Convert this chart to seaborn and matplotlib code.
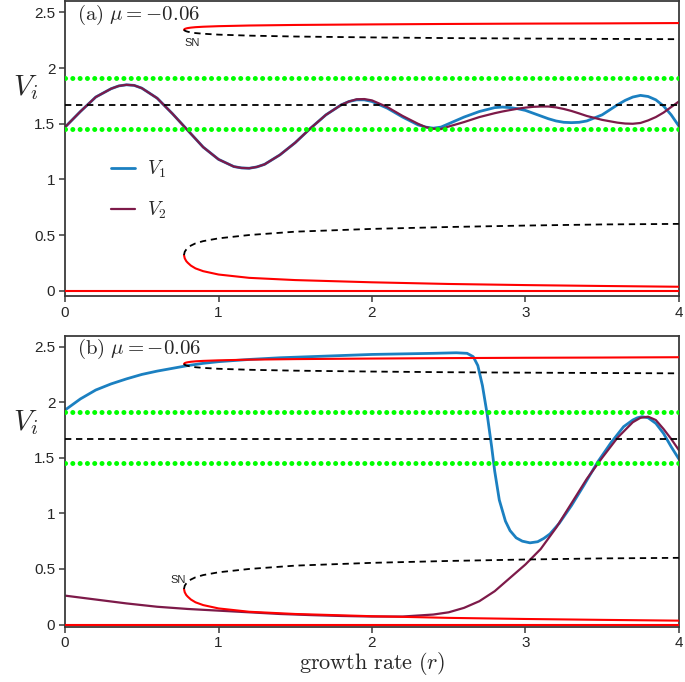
import numpy as np
import matplotlib
matplotlib.use("Agg")
import matplotlib.pyplot as plt
import seaborn as sns
import pandas as pd

sns.set_style("ticks")
plt.rcParams['font.family'] = ['Liberation Sans', 'DejaVu Sans']
plt.rcParams['mathtext.fontset'] = 'cm'

# --- datos ---
# panel (a): trayectorias V1, V2 frente a r
r_a = [0.0, 0.1, 0.2, 0.3, 0.35, 0.4, 0.45, 0.5, 0.6, 0.7,
       0.8, 0.9, 1.0, 1.1, 1.15, 1.2, 1.25, 1.3, 1.4, 1.5,
       1.6, 1.7, 1.8, 1.85, 1.9, 1.95, 2.0, 2.1, 2.2, 2.3,
       2.35, 2.4, 2.45, 2.5, 2.6, 2.7, 2.8, 2.85, 2.9, 2.95,
       3.0, 3.05, 3.1, 3.15, 3.2, 3.25, 3.3, 3.35, 3.4, 3.5,
       3.6, 3.65, 3.7, 3.75, 3.8, 3.85, 3.9, 3.95, 4.0]
v1_a = [1.47, 1.61, 1.74, 1.815, 1.84, 1.85, 1.845, 1.82, 1.73, 1.59,
        1.44, 1.29, 1.18, 1.115, 1.103, 1.10, 1.112, 1.135, 1.22, 1.33,
        1.46, 1.58, 1.67, 1.70, 1.715, 1.715, 1.70, 1.64, 1.56, 1.49,
        1.47, 1.46, 1.47, 1.50, 1.56, 1.61, 1.645, 1.65, 1.645, 1.635,
        1.62, 1.595, 1.57, 1.545, 1.525, 1.513, 1.51, 1.513, 1.525, 1.58,
        1.67, 1.71, 1.74, 1.755, 1.745, 1.715, 1.66, 1.58, 1.48]
v2_a = [1.47, 1.61, 1.74, 1.815, 1.84, 1.85, 1.845, 1.82, 1.73, 1.59,
        1.44, 1.29, 1.18, 1.115, 1.103, 1.10, 1.112, 1.135, 1.22, 1.33,
        1.46, 1.58, 1.67, 1.70, 1.72, 1.722, 1.71, 1.65, 1.57, 1.50,
        1.47, 1.455, 1.452, 1.475, 1.515, 1.56, 1.595, 1.61, 1.623, 1.635,
        1.645, 1.652, 1.655, 1.655, 1.647, 1.633, 1.615, 1.593, 1.57, 1.535,
        1.51, 1.502, 1.50, 1.507, 1.53, 1.56, 1.60, 1.65, 1.70]

# panel (b)
r_b1 = [0.0, 0.1, 0.2, 0.3, 0.4, 0.5, 0.6, 0.7, 0.8, 0.9, 1.0, 1.2, 1.4, 1.6,
        1.8, 2.0, 2.2, 2.4, 2.55, 2.62, 2.66, 2.69, 2.72, 2.75, 2.78, 2.80,
        2.83, 2.87, 2.90, 2.94, 2.98, 3.03, 3.08, 3.12, 3.16, 3.22, 3.30,
        3.38, 3.47, 3.56, 3.64, 3.70, 3.73, 3.76, 3.80, 3.85, 3.90, 3.95, 4.0]
v1_b = [1.93, 2.03, 2.11, 2.165, 2.21, 2.25, 2.28, 2.305, 2.33, 2.35, 2.365,
        2.385, 2.40, 2.41, 2.42, 2.43, 2.435, 2.44, 2.445, 2.44, 2.41, 2.33,
        2.15, 1.90, 1.60, 1.38, 1.12, 0.93, 0.845, 0.78, 0.75, 0.735, 0.745,
        0.775, 0.815, 0.91, 1.07, 1.25, 1.46, 1.64, 1.78, 1.84, 1.86, 1.87,
        1.86, 1.81, 1.72, 1.60, 1.49]
r_b2 = [0.0, 0.2, 0.4, 0.6, 0.8, 1.0, 1.2, 1.4, 1.6, 1.8, 2.0, 2.2, 2.4, 2.5,
        2.6, 2.7, 2.8, 2.9, 3.0, 3.1, 3.2, 3.3, 3.4, 3.5, 3.6, 3.7, 3.75, 3.8,
        3.85, 3.9, 3.95, 4.0]
v2_b = [0.26, 0.225, 0.19, 0.16, 0.14, 0.125, 0.11, 0.095, 0.085, 0.077,
        0.072, 0.072, 0.09, 0.11, 0.15, 0.21, 0.30, 0.42, 0.54, 0.68, 0.87,
        1.09, 1.31, 1.50, 1.68, 1.82, 1.86, 1.87, 1.84, 1.76, 1.67, 1.57]

# diagrama de bifurcación (ramas con silla-nodo)
br_r = [0.775, 0.78, 0.79, 0.8, 0.82, 0.85, 0.9, 1.0, 1.2, 1.5, 2.0, 2.5,
        3.0, 3.5, 4.0]
upper_stable = [2.345, 2.352, 2.357, 2.36, 2.364, 2.368, 2.372, 2.377, 2.383,
                2.388, 2.393, 2.397, 2.40, 2.402, 2.405]
upper_unstable = [2.345, 2.337, 2.331, 2.327, 2.321, 2.315, 2.309, 2.301,
                  2.292, 2.284, 2.276, 2.27, 2.266, 2.263, 2.26]
lower_stable = [0.32, 0.29, 0.265, 0.25, 0.225, 0.2, 0.175, 0.145, 0.115,
                0.095, 0.075, 0.06, 0.05, 0.042, 0.035]
lower_unstable = [0.32, 0.35, 0.37, 0.385, 0.405, 0.425, 0.445, 0.47, 0.5,
                  0.53, 0.555, 0.572, 0.585, 0.595, 0.60]

r_span = [0.0, 4.0]
green_levels = [1.91, 1.45]
mid_unstable = 1.67
zero_level = 0.0

x_ticks = [0, 1, 2, 3, 4]
y_ticks = [0, 0.5, 1, 1.5, 2, 2.5]
y_tick_labels = ['0', '0.5', '1', '1.5', '2', '2.5']

C_BLUE = '#1b80c1'
C_PURPLE = '#7d1a49'
C_RED = '#ff0000'
C_GREEN = '#00ff00'
EDGE = '#3a3a3a'
DASH = (0, (3.5, 2.6))


def dibujar_panel(ax, r1, v1, r2, v2, etiqueta, ylim, sn_xy, sn_ha):
    df1 = pd.DataFrame({'r': r1, 'V': v1})
    df2 = pd.DataFrame({'r': r2, 'V': v2})
    sns.lineplot(data=df1, x='r', y='V', ax=ax, color=C_BLUE, lw=2.0,
                 sort=False, estimator=None, label=r'$V_1$', zorder=2)
    sns.lineplot(data=df2, x='r', y='V', ax=ax, color=C_PURPLE, lw=1.6,
                 sort=False, estimator=None, label=r'$V_2$', zorder=2.1)

    # equilibrios constantes
    for g in green_levels:
        ax.plot(r_span, [g, g], color=C_GREEN, lw=3.6, ls=(0, (0.01, 1.45)),
                dash_capstyle='round', zorder=3)
    ax.plot(r_span, [mid_unstable] * 2, color='black', lw=1.3, ls=DASH, zorder=3)
    ax.plot(r_span, [zero_level] * 2, color=C_RED, lw=1.5, zorder=3)

    # ramas de silla-nodo
    ax.plot(br_r, upper_stable, color=C_RED, lw=1.5, zorder=3)
    ax.plot(br_r, upper_unstable, color='black', lw=1.3, ls=DASH, zorder=3)
    ax.plot(br_r, lower_stable, color=C_RED, lw=1.5, zorder=3)
    ax.plot(br_r, lower_unstable, color='black', lw=1.3, ls=DASH, zorder=3)

    ax.text(sn_xy[0], sn_xy[1], 'SN', fontsize=8, ha=sn_ha, va='center')
    ax.text(0.02, 0.995, etiqueta, transform=ax.transAxes, fontsize=15,
            ha='left', va='top')

    ax.set_xlim(0, 4)
    ax.set_ylim(*ylim)
    ax.set_xticks(x_ticks)
    ax.set_xticklabels([str(t) for t in x_ticks])
    ax.set_yticks(y_ticks)
    ax.set_yticklabels(y_tick_labels)
    ax.tick_params(direction='out', length=4, width=1.1, color=EDGE,
                   labelsize=11, top=False, right=False, pad=3)
    for s in ax.spines.values():
        s.set_visible(True)
        s.set_color(EDGE)
        s.set_linewidth(1.3)
    ax.set_xlabel('')
    ax.set_ylabel(r'$V_i$', fontsize=21, rotation=0)


fig = plt.figure(figsize=(6.85, 6.82), dpi=100)
ax_a = fig.add_axes([0.095, 0.566, 0.896, 0.432])
ax_b = fig.add_axes([0.095, 0.081, 0.896, 0.427])

dibujar_panel(ax_a, r_a, v1_a, r_a, v2_a, r'$\mathrm{(a)}\ \mu = -0.06$',
              (-0.048, 2.6), (0.78, 2.23), 'left')
dibujar_panel(ax_b, r_b1, v1_b, r_b2, v2_b, r'$\mathrm{(b)}\ \mu = -0.06$',
              (-0.02, 2.6), (0.785, 0.40), 'right')

ax_a.yaxis.set_label_coords(-0.065, 0.66)
ax_b.yaxis.set_label_coords(-0.065, 0.65)

ax_a.legend(loc='center left', bbox_to_anchor=(0.075, 0.36),
            frameon=False, fontsize=14, handlelength=1.25,
            handletextpad=0.6, labelspacing=1.0, borderpad=0,
            borderaxespad=0)
ax_b.get_legend().remove()

ax_b.set_xlabel(r'$\mathrm{growth\ rate}\ (r)$', fontsize=16, labelpad=0)

fig.savefig('out.png', dpi=100)
